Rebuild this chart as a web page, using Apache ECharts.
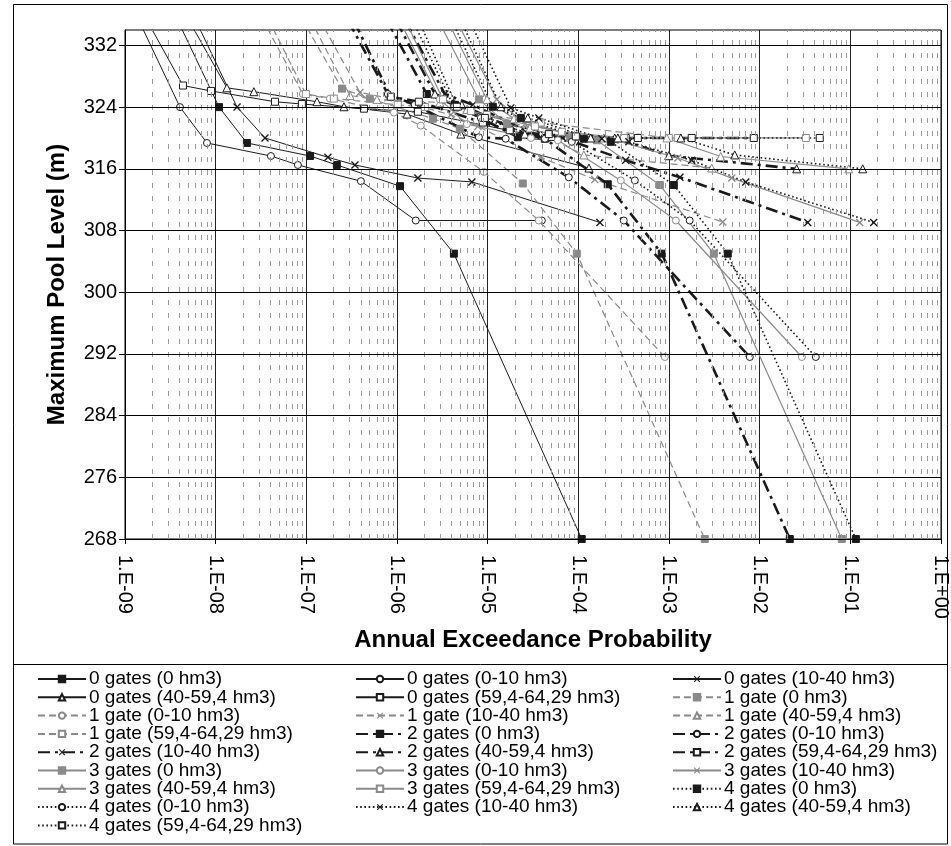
<!DOCTYPE html>
<html><head><meta charset="utf-8">
<script src="https://cdn.jsdelivr.net/npm/echarts@6/dist/echarts.min.js"></script>
<style>html,body{margin:0;padding:0;background:#fff}#c{width:951px;height:846px}</style>
</head><body><div id="c"></div>
<script>
// ---------- tick labels ----------
const yTicks = [268, 276, 284, 292, 300, 308, 316, 324, 332];

// ---------- series names ----------
const seriesNames = [
  '0 gates (0 hm3)', '0 gates (0-10 hm3)', '0 gates (10-40 hm3)', '0 gates (40-59,4 hm3)', '0 gates (59,4-64,29 hm3)',
  '1 gate (0 hm3)', '1 gate (0-10 hm3)', '1 gate (10-40 hm3)', '1 gate (40-59,4 hm3)', '1 gate (59,4-64,29 hm3)',
  '2 gates (0 hm3)', '2 gates (0-10 hm3)', '2 gates (10-40 hm3)', '2 gates (40-59,4 hm3)', '2 gates (59,4-64,29 hm3)',
  '3 gates (0 hm3)', '3 gates (0-10 hm3)', '3 gates (10-40 hm3)', '3 gates (40-59,4 hm3)', '3 gates (59,4-64,29 hm3)',
  '4 gates (0 hm3)', '4 gates (0-10 hm3)', '4 gates (10-40 hm3)', '4 gates (40-59,4 hm3)', '4 gates (59,4-64,29 hm3)'
];

// ---------- values: annual exceedance probability / max pool level (m) ----------
const aep_g0_v0 = [2.95e-9, 1.09e-8, 2.21e-8, 1.10e-7, 2.17e-7, 1.08e-6, 4.24e-6, 1.09e-4];
const lvl_g0_v0 = [338, 324, 319.35, 317.66, 316.5, 313.75, 305, 268];
const aep_g0_v1 = [1.10e-9, 4.04e-9, 8.02e-9, 4.07e-8, 8.07e-8, 4.00e-7, 1.61e-6, 3.96e-5];
const lvl_g0_v1 = [338, 324, 319.35, 317.66, 316.5, 314.4, 309.3, 309.3];
const aep_g0_v2 = [4.68e-9, 1.72e-8, 3.50e-8, 1.73e-7, 3.44e-7, 1.70e-6, 6.70e-6, 1.73e-4];
const lvl_g0_v2 = [338, 324, 320, 317.5, 316.5, 314.8, 314.3, 309.05];
const aep_g0_v3 = [3.74e-9, 1.33e-8, 2.64e-8, 1.31e-7, 2.60e-7, 1.29e-6, 5.06e-6, 1.31e-4];
const lvl_g0_v3 = [338, 326.5, 326.0, 324.7, 324.05, 323.1, 320.5, 316.1];
const aep_g0_v4 = [1.30e-9, 4.36e-9, 8.87e-9, 4.51e-8, 8.93e-8, 4.32e-7, 1.70e-6, 4.39e-5];
const lvl_g0_v4 = [338, 326.8, 326.1, 324.7, 324.4, 323.8, 323.4, 320];

const aep_g1_v0 = [6.70e-8, 2.47e-7, 5.02e-7, 2.49e-6, 4.93e-6, 2.44e-5, 9.62e-5, 2.48e-3];
const lvl_g1_v0 = [338, 326.4, 325.1, 322.5, 321.2, 314.1, 305, 268];
const aep_g1_v1 = [2.49e-8, 9.16e-8, 1.82e-7, 9.25e-7, 1.83e-6, 9.08e-6, 3.66e-5, 9.00e-4];
const lvl_g1_v1 = [338, 325.7, 325.1, 323.3, 321.6, 315.6, 309.3, 291.6];
const aep_g1_v2 = [1.06e-7, 3.90e-7, 7.94e-7, 3.93e-6, 7.80e-6, 3.85e-5, 1.52e-4, 3.92e-3];
const lvl_g1_v2 = [338, 325.9, 325.2, 323.0, 321.5, 317.5, 314.6, 309.1];
const aep_g1_v3 = [8.49e-8, 3.03e-7, 6.00e-7, 2.97e-6, 5.90e-6, 2.92e-5, 1.15e-4, 2.96e-3];
const lvl_g1_v3 = [338, 325.5, 325.0, 324.6, 323.7, 321.3, 317.8, 316.1];
const aep_g1_v4 = [2.96e-8, 9.89e-8, 2.01e-7, 1.02e-6, 2.03e-6, 9.80e-6, 3.85e-5, 9.95e-4];
const lvl_g1_v4 = [338, 325.7, 325.1, 324.3, 324.0, 323.0, 322.0, 320];

const aep_g2_v0 = [5.79e-7, 2.13e-6, 4.35e-6, 2.15e-5, 4.27e-5, 2.11e-4, 8.32e-4, 2.15e-2];
const lvl_g2_v0 = [338, 325.7, 324.3, 320.1, 319.9, 314.0, 305, 268];
const aep_g2_v1 = [2.15e-7, 7.93e-7, 1.57e-6, 8.00e-6, 1.58e-5, 7.85e-5, 3.17e-4, 7.78e-3];
const lvl_g2_v1 = [338, 325.7, 324.3, 320.1, 319.9, 314.9, 309.3, 291.6];
const aep_g2_v2 = [9.18e-7, 3.37e-6, 6.87e-6, 3.40e-5, 6.75e-5, 3.33e-4, 1.32e-3, 3.39e-2];
const lvl_g2_v2 = [338, 325.7, 324.3, 320.3, 320.0, 317.1, 314.9, 309.05];
const aep_g2_v3 = [7.35e-7, 2.62e-6, 5.19e-6, 2.57e-5, 5.11e-5, 2.52e-4, 9.93e-4, 2.56e-2];
const lvl_g2_v3 = [338, 325.7, 324.3, 320.5, 320.2, 320.0, 317.7, 316.0];
const aep_g2_v4 = [2.56e-7, 8.55e-7, 1.74e-6, 8.85e-6, 1.75e-5, 8.47e-5, 3.33e-4, 8.61e-3];
const lvl_g2_v4 = [338, 325.35, 324.7, 322.0, 321.0, 320.0, 320.0, 320.0];

const aep_g3_v0 = [2.17e-6, 8.00e-6, 1.63e-5, 8.07e-5, 1.60e-4, 7.93e-4, 3.12e-3, 8.05e-2];
const lvl_g3_v0 = [338, 325.0, 321.8, 320.0, 319.7, 313.9, 305, 268];
const aep_g3_v1 = [8.07e-7, 2.97e-6, 5.90e-6, 3.00e-5, 5.94e-5, 2.94e-4, 1.19e-3, 2.92e-2];
const lvl_g3_v1 = [338, 325.0, 321.8, 320.0, 319.7, 314.5, 309.3, 291.6];
const aep_g3_v2 = [3.44e-6, 1.26e-5, 2.58e-5, 1.27e-4, 2.53e-4, 1.25e-3, 4.93e-3, 1.27e-1];
const lvl_g3_v2 = [338, 325.0, 321.8, 320.0, 319.7, 317.4, 314.8, 309.05];
const aep_g3_v3 = [2.75e-6, 9.82e-6, 1.95e-5, 9.64e-5, 1.91e-4, 9.46e-4, 3.72e-3, 9.62e-2];
const lvl_g3_v3 = [338, 325.0, 322.5, 320.2, 320.0, 320.0, 317.6, 316.0];
const aep_g3_v4 = [9.59e-7, 3.21e-6, 6.53e-6, 3.32e-5, 6.58e-5, 3.18e-4, 1.25e-3, 3.23e-2];
const lvl_g3_v4 = [338, 325.0, 323.5, 321.5, 320.8, 320.0, 320.0, 320.0];

const aep_g4_v0 = [3.10e-6, 1.14e-5, 2.32e-5, 1.15e-4, 2.28e-4, 1.13e-3, 4.45e-3, 1.15e-1];
const lvl_g4_v0 = [338, 324.05, 322.6, 319.9, 319.5, 313.9, 305, 268];
const aep_g4_v1 = [1.15e-6, 4.24e-6, 8.41e-6, 4.28e-5, 8.47e-5, 4.20e-4, 1.69e-3, 4.16e-2];
const lvl_g4_v1 = [338, 324.05, 322.6, 319.9, 319.5, 314.5, 309.3, 291.6];
const aep_g4_v2 = [4.91e-6, 1.80e-5, 3.67e-5, 1.82e-4, 3.61e-4, 1.78e-3, 7.03e-3, 1.81e-1];
const lvl_g4_v2 = [338, 323.9, 322.6, 319.9, 319.5, 317.1, 314.3, 309.05];
const aep_g4_v3 = [3.93e-6, 1.40e-5, 2.77e-5, 1.37e-4, 2.73e-4, 1.35e-3, 5.31e-3, 1.37e-1];
const lvl_g4_v3 = [338, 324.05, 322.6, 320.0, 320.0, 320.0, 317.8, 316.0];
const aep_g4_v4 = [1.37e-6, 4.57e-6, 9.31e-6, 4.73e-5, 9.38e-5, 4.53e-4, 1.78e-3, 4.60e-2];
const lvl_g4_v4 = [338, 324.05, 322.6, 320.5, 320.2, 320.0, 320.0, 320.0];

const aepTable = [
  [aep_g0_v0, aep_g0_v1, aep_g0_v2, aep_g0_v3, aep_g0_v4],
  [aep_g1_v0, aep_g1_v1, aep_g1_v2, aep_g1_v3, aep_g1_v4],
  [aep_g2_v0, aep_g2_v1, aep_g2_v2, aep_g2_v3, aep_g2_v4],
  [aep_g3_v0, aep_g3_v1, aep_g3_v2, aep_g3_v3, aep_g3_v4],
  [aep_g4_v0, aep_g4_v1, aep_g4_v2, aep_g4_v3, aep_g4_v4]
];
const lvlTable = [
  [lvl_g0_v0, lvl_g0_v1, lvl_g0_v2, lvl_g0_v3, lvl_g0_v4],
  [lvl_g1_v0, lvl_g1_v1, lvl_g1_v2, lvl_g1_v3, lvl_g1_v4],
  [lvl_g2_v0, lvl_g2_v1, lvl_g2_v2, lvl_g2_v3, lvl_g2_v4],
  [lvl_g3_v0, lvl_g3_v1, lvl_g3_v2, lvl_g3_v3, lvl_g3_v4],
  [lvl_g4_v0, lvl_g4_v1, lvl_g4_v2, lvl_g4_v3, lvl_g4_v4]
];

// ---------- styles ----------
const BLACK = '#1a1a1a', GRAY = '#8a8a8a';
const FONT = 'Liberation Sans, Arial, sans-serif';
const gateStyles = [
  { color: BLACK, width: 1, type: 'solid' },
  { color: GRAY, width: 1.2, type: [7, 4] },
  { color: BLACK, width: 2.6, type: [12, 5, 3, 5] },
  { color: GRAY, width: 1.2, type: 'solid' },
  { color: BLACK, width: 1.6, type: [1.6, 2.6] }
];
const XPATH = 'path://M0,1.2L1.2,0L5,3.8L8.8,0L10,1.2L6.2,5L10,8.8L8.8,10L5,6.2L1.2,10L0,8.8L3.8,5Z';
const markerStyles = [
  { symbol: 'rect', size: 7, filled: true },
  { symbol: 'circle', size: 7, filled: false },
  { symbol: XPATH, size: 8, filled: true },
  { symbol: 'triangle', size: 8, filled: false },
  { symbol: 'rect', size: 7, filled: false }
];

const series = [];
for (let g = 0; g < 5; g++) {
  for (let v = 0; v < 5; v++) {
    const gs = gateStyles[g], ms = markerStyles[v];
    const a = aepTable[g][v], l = lvlTable[g][v];
    series.push({
      name: seriesNames[g * 5 + v],
      type: 'line',
      data: a.map((p, i) => [p, l[i]]),
      symbol: ms.symbol,
      symbolSize: ms.size,
      showSymbol: true,
      clip: true,
      z: 3,
      lineStyle: { color: gs.color, width: gs.width, type: gs.type },
      itemStyle: ms.filled
        ? { color: gs.color, borderColor: gs.color, borderWidth: ms.symbol === XPATH ? 0 : 1 }
        : { color: '#ffffff', borderColor: gs.color, borderWidth: 1 },
      emphasis: { disabled: true },
      animation: false
    });
  }
}

// gridlines (horizontal at the y ticks, dashed minor verticals inside each decade)
const minorX = [];
for (let d = -9; d < 0; d++) for (let k = 2; k <= 9; k++) minorX.push(k * Math.pow(10, d));
series.unshift({
  name: '_grid', type: 'line', data: [[1e-9, 268]], symbol: 'none', silent: true, z: 1,
  lineStyle: { width: 0 },
  markLine: {
    silent: true, animation: false, precision: 20, symbol: ['none', 'none'], label: { show: false },
    emphasis: { disabled: true },
    data: [
      ...minorX.map(x => ({ xAxis: x, lineStyle: { color: '#9a9a9a', width: 1, type: [5, 8] } })),
      ...yTicks.map(y => ({ yAxis: y, lineStyle: { color: '#000', width: 1, type: 'solid' } }))
    ]
  }
});

function fmtAEP(val) {
  const e = Math.round(Math.log10(val));
  const a = Math.abs(e);
  return '1.E' + (e < 0 ? '-' : '+') + (a < 10 ? '0' : '') + a;
}

const legendCols = [37, 355, 672];
const legends = legendCols.map((left, col) => ({
  orient: 'vertical', left: left, top: 669.5, padding: 0,
  data: seriesNames.filter((_, i) => i % 3 === col),
  itemWidth: 48, itemHeight: 8, itemGap: -0.7,
  selectedMode: false,
  textStyle: { fontSize: 19, fontFamily: FONT, color: '#000', padding: [0, 0, 0, -2] }
}));

const chart = echarts.init(document.getElementById('c'), null, { renderer: 'canvas' });
chart.setOption({
  animation: false,
  backgroundColor: '#fff',
  textStyle: { fontFamily: FONT },
  grid: { left: 125, right: 10, top: 30, bottom: 307, show: true, borderColor: '#000', borderWidth: 1, containLabel: false },
  legend: legends,
  xAxis: {
    type: 'log', logBase: 10, min: 1e-9, max: 1,
    axisLine: { show: true, lineStyle: { color: '#000', width: 1 } },
    axisTick: { show: true, length: 5, lineStyle: { color: '#000' } },
    axisLabel: { rotate: -90, fontSize: 20, color: '#000', margin: 16, formatter: fmtAEP, fontFamily: FONT },
    splitLine: { show: true, lineStyle: { color: '#222', width: 1 } },
    minorTick: { show: false }, minorSplitLine: { show: false },
    name: 'Annual Exceedance Probability', nameLocation: 'middle', nameGap: 89,
    nameTextStyle: { fontSize: 24, fontWeight: 'bold', color: '#000', fontFamily: FONT }
  },
  yAxis: {
    type: 'value', min: 268, max: 334,
    axisLine: { show: true, lineStyle: { color: '#000', width: 1 } },
    axisTick: { show: true, length: 6, customValues: yTicks, lineStyle: { color: '#000' } },
    axisLabel: { fontSize: 20, color: '#000', margin: 8, customValues: yTicks, fontFamily: FONT },
    splitLine: { show: false },
    name: 'Maximum Pool Level (m)', nameLocation: 'middle', nameGap: 56,
    nameTextStyle: { fontSize: 24, fontWeight: 'bold', color: '#000', fontFamily: FONT }
  },
  graphic: [
    { type: 'rect', silent: true, shape: { x: 13.5, y: 4.5, width: 934, height: 839.5 }, style: { fill: 'none', stroke: '#000', lineWidth: 1 } },
    { type: 'line', silent: true, shape: { x1: 13.5, y1: 664.5, x2: 947.5, y2: 664.5 }, style: { stroke: '#000', lineWidth: 1 } }
  ],
  series: series
});
</script>
</body></html>
